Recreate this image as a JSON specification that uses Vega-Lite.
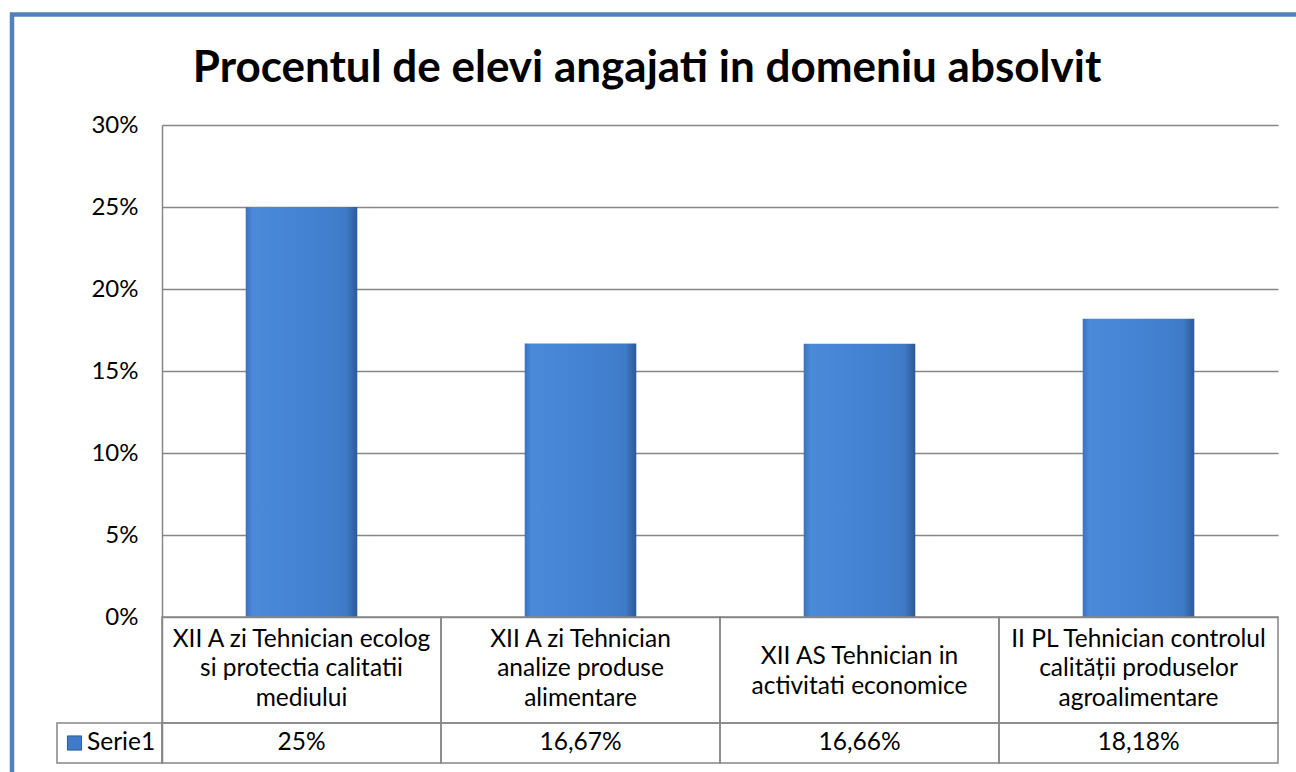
{
  "$schema": "https://vega.github.io/schema/vega-lite/v6.json",
  "width": 1116,
  "height": 638,
  "autosize": {"type": "none"},
  "padding": {"left": 162, "top": 125, "right": 18, "bottom": 9},
  "background": "white",
  "title": {
    "text": "Procentul de elevi angajati in domeniu absolvit",
    "font": "Lato",
    "fontSize": 44,
    "fontWeight": "bold",
    "color": "black",
    "anchor": "middle",
    "frame": "group",
    "dx": -73,
    "offset": -79
  },
  "config": {"view": {"stroke": null}},
  "data": {
    "values": [
      {"cat": "XII A zi Tehnician ecolog si protectia calitatii mediului", "lines": "XII A zi Tehnician ecolog|si protectia calitatii|mediului", "value": 0.25, "label": "25%"},
      {"cat": "XII A zi Tehnician analize produse alimentare", "lines": "XII A zi Tehnician|analize produse|alimentare", "value": 0.1667, "label": "16,67%"},
      {"cat": "XII AS Tehnician in activitati economice", "lines": "XII AS Tehnician in|activitati economice", "value": 0.1666, "label": "16,66%"},
      {"cat": "II PL Tehnician controlul calității produselor agroalimentare", "lines": "II PL Tehnician controlul|calității produselor|agroalimentare", "value": 0.1818, "label": "18,18%"}
    ]
  },
  "resolve": {"scale": {"x": "independent"}},
  "layer": [
    {
      "mark": {
        "type": "bar",
        "color": {
          "gradient": "linear", "x1": 0, "x2": 1, "y1": 0, "y2": 0,
          "stops": [
            {"offset": 0, "color": "#3a72bd"},
            {"offset": 0.06, "color": "#4a8ad9"},
            {"offset": 0.5, "color": "#4483d4"},
            {"offset": 0.9, "color": "#3f7bc8"},
            {"offset": 1, "color": "#2c5a96"}
          ]
        }
      },
      "encoding": {
        "x": {"field": "cat", "type": "nominal", "sort": null, "axis": null,
              "scale": {"paddingInner": 0.6, "paddingOuter": 0.3}},
        "y": {"field": "value", "type": "quantitative",
              "scale": {"domain": [-0.08902, 0.3], "nice": false, "zero": false},
              "axis": {
                "values": [0, 0.05, 0.1, 0.15, 0.2, 0.25, 0.3],
                "format": ".0%",
                "title": null,
                "ticks": false,
                "domain": true,
                "domainColor": "#868686",
                "domainWidth": 1.5,
                "grid": true,
                "gridColor": "#868686",
                "gridWidth": 1.5,
                "labelFont": "Lato",
                "labelFontSize": 24,
                "labelColor": "black",
                "labelPadding": 24
              }}
      }
    },
    {
      "mark": {"type": "rect", "fill": null, "stroke": "#868686", "strokeWidth": 1.5},
      "encoding": {
        "x": {"field": "cat", "type": "nominal", "sort": null, "axis": null,
              "scale": {"paddingInner": 0, "paddingOuter": 0}},
        "y": {"datum": 0},
        "y2": {"datum": -0.06463}
      }
    },
    {
      "mark": {"type": "rect", "fill": null, "stroke": "#868686", "strokeWidth": 1.5},
      "encoding": {
        "x": {"field": "cat", "type": "nominal", "sort": null, "axis": null,
              "scale": {"paddingInner": 0, "paddingOuter": 0}},
        "y": {"datum": -0.06463},
        "y2": {"datum": -0.08902}
      }
    },
    {
      "transform": [{"filter": "length(split(datum.lines, '|')) == 3"}],
      "mark": {"type": "text", "lineBreak": "|", "font": "Lato", "fontSize": 24.5, "lineHeight": 29.5, "baseline": "middle", "align": "center", "color": "black"},
      "encoding": {
        "x": {"field": "cat", "type": "nominal", "sort": null, "axis": null,
              "scale": {"domain": ["XII A zi Tehnician ecolog si protectia calitatii mediului", "XII A zi Tehnician analize produse alimentare", "XII AS Tehnician in activitati economice", "II PL Tehnician controlul calității produselor agroalimentare"], "paddingInner": 0, "paddingOuter": 0}},
        "y": {"datum": -0.01402},
        "text": {"field": "lines", "type": "nominal"}
      }
    },
    {
      "transform": [{"filter": "length(split(datum.lines, '|')) == 2"}],
      "mark": {"type": "text", "lineBreak": "|", "font": "Lato", "fontSize": 24.5, "lineHeight": 29.5, "baseline": "middle", "align": "center", "color": "black"},
      "encoding": {
        "x": {"field": "cat", "type": "nominal", "sort": null, "axis": null,
              "scale": {"domain": ["XII A zi Tehnician ecolog si protectia calitatii mediului", "XII A zi Tehnician analize produse alimentare", "XII AS Tehnician in activitati economice", "II PL Tehnician controlul calității produselor agroalimentare"], "paddingInner": 0, "paddingOuter": 0}},
        "y": {"datum": -0.02439},
        "text": {"field": "lines", "type": "nominal"}
      }
    },
    {
      "mark": {"type": "text", "font": "Lato", "fontSize": 24.5, "baseline": "middle", "align": "center", "color": "black"},
      "encoding": {
        "x": {"field": "cat", "type": "nominal", "sort": null, "axis": null,
              "scale": {"paddingInner": 0, "paddingOuter": 0}},
        "y": {"datum": -0.07683},
        "text": {"field": "label", "type": "nominal"}
      }
    },
    {
      "data": {"values": [{"series": "Serie1"}]},
      "layer": [
        {
          "mark": {"type": "rect", "fill": null, "stroke": "#868686", "strokeWidth": 1.5},
          "encoding": {
            "x": {"datum": -0.0941, "type": "quantitative", "scale": {"domain": [0, 1], "nice": false, "zero": false}, "axis": null},
            "x2": {"datum": 0},
            "y": {"datum": -0.06463},
            "y2": {"datum": -0.08902}
          }
        },
        {
          "mark": {"type": "point", "shape": "square", "filled": true, "size": 200, "color": "#3f7bc8", "stroke": "#2c5a96", "strokeWidth": 1, "opacity": 1},
          "encoding": {
            "x": {"datum": -0.0784, "type": "quantitative", "scale": {"domain": [0, 1], "nice": false, "zero": false}, "axis": null},
            "y": {"datum": -0.07683}
          }
        },
        {
          "mark": {"type": "text", "font": "Lato", "fontSize": 24.5, "baseline": "middle", "align": "left", "color": "black"},
          "encoding": {
            "x": {"datum": -0.0672, "type": "quantitative", "scale": {"domain": [0, 1], "nice": false, "zero": false}, "axis": null},
            "y": {"datum": -0.07683},
            "text": {"field": "series", "type": "nominal"}
          }
        },
        {
          "mark": {"type": "rect", "fill": null, "stroke": "#4f81bd", "strokeWidth": 4.5},
          "encoding": {
            "x": {"datum": -0.1344, "type": "quantitative", "scale": {"domain": [0, 1], "nice": false, "zero": false}, "axis": null},
            "x2": {"datum": 1.3},
            "y": {"datum": 0.36738},
            "y2": {"datum": -0.3}
          }
        }
      ]
    }
  ]
}
